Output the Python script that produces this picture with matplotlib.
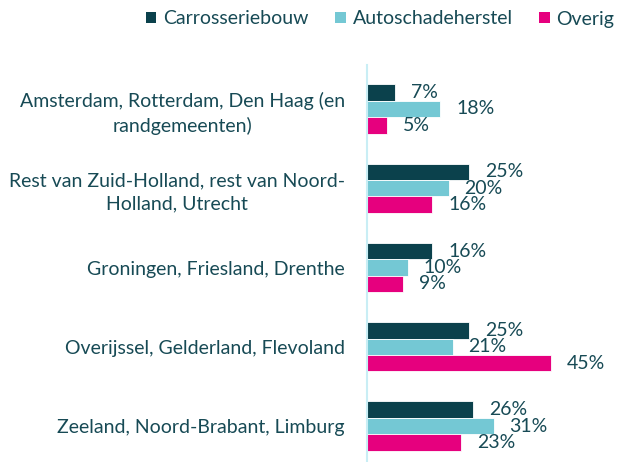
import numpy as np
import matplotlib.pyplot as plt
from matplotlib.patches import Patch

plt.rcParams['font.family'] = ['Lato', 'DejaVu Sans']

regions = [
    "Amsterdam, Rotterdam, Den Haag (en\nrandgemeenten)",
    "Rest van Zuid-Holland, rest van Noord-\nHolland, Utrecht",
    "Groningen, Friesland, Drenthe",
    "Overijssel, Gelderland, Flevoland",
    "Zeeland, Noord-Brabant, Limburg",
]
series = ["Carrosseriebouw", "Autoschadeherstel", "Overig"]
carrosserie = [7, 25, 16, 25, 26]
autoschade = [18, 20, 10, 21, 31]
overig = [5, 16, 9, 45, 23]

colors = ["#0B414C", "#74C8D4", "#E6007E"]
text_color = "#174A55"
fs = 14

fig = plt.figure(figsize=(6.24, 4.62), dpi=100)
# axis line at x~366px, top of axis at y~65px
ax = fig.add_axes([366.5 / 624, 0, 1 - 366.5 / 624, 397 / 462])

y = np.arange(len(regions))
h = 0.208
for k, (vals, col) in enumerate(zip([carrosserie, autoschade, overig], colors)):
    pos = y + (k - 1) * h
    ax.barh(pos, vals, height=h, color=col, edgecolor="white", linewidth=0.6)
    for p, v in zip(pos, vals):
        ax.annotate(f"{v}%", (v, p), xytext=(11.5, 0), textcoords="offset points",
                    ha="left", va="center", fontsize=fs, color=text_color)

ax.set_xlim(0, (624 - 366.5) / 4.1)
ax.set_ylim(4.454, -0.555)
ax.set_xticks([])
ax.set_yticks(y)
ax.set_yticklabels(regions, fontsize=fs, color=text_color, multialignment="center",
                   linespacing=1.4)
ax.tick_params(axis="y", length=0, pad=15.5)
for s in ["top", "right", "bottom"]:
    ax.spines[s].set_visible(False)
ax.spines["left"].set_color("#C9EEF5")
ax.spines["left"].set_linewidth(1.5)

handles = [Patch(facecolor=c, label=s) for c, s in zip(colors, series)]
fig.legend(handles=handles, loc="center", bbox_to_anchor=(380 / 624, 1 - 19 / 462), ncol=3,
           frameon=False, fontsize=fs, labelcolor=text_color, handlelength=0.55,
           handleheight=0.55, handletextpad=0.35, columnspacing=1.35)

fig.savefig("out.png", dpi=100)
